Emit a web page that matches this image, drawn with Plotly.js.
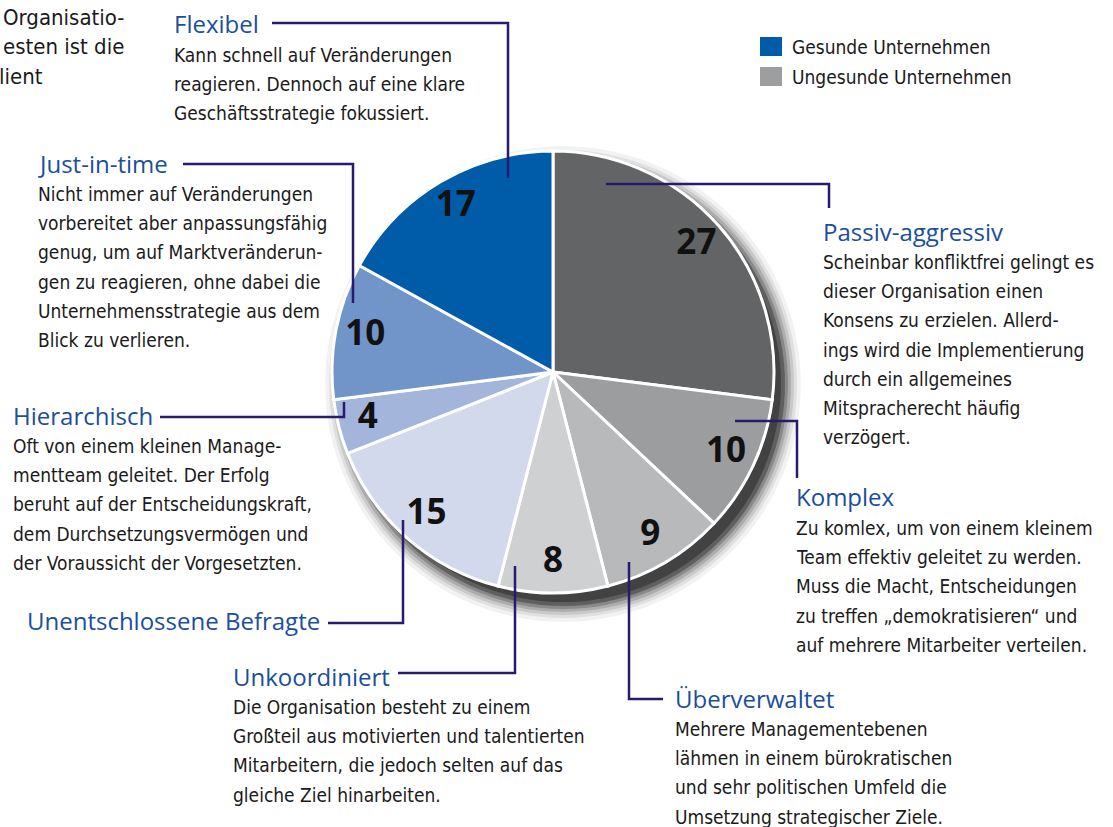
<!DOCTYPE html>
<html>
<head>
<meta charset="utf-8">
<script src="https://cdn.plot.ly/plotly-3.0.1.min.js"></script>
<style>html,body{margin:0;padding:0;background:#fff;}#chart{width:1113px;height:827px;}</style>
</head>
<body>
<div id="chart"></div>
<script>
// ---- data ----
const categories = ['Passiv-aggressiv','Komplex','Überverwaltet','Unkoordiniert','Unentschlossene Befragte','Hierarchisch','Just-in-time','Flexibel'];
const values = [27, 10, 9, 8, 15, 4, 10, 17];
const sliceColors = ['#636466','#9c9d9f','#b8b9bb','#cfd0d2','#d3d9ec','#a3b5db','#7194c9','#005ca8'];
const legendLabels = ['Gesunde Unternehmen','Ungesunde Unternehmen'];
const legendColors = ['#005ca8','#9d9ea0'];

const descPassiv = ['Scheinbar konfliktfrei gelingt es','dieser Organisation einen','Konsens zu erzielen. Allerd-','ings wird die Implementierung','durch ein allgemeines','Mitspracherecht häufig','verzögert.'];
const descKomplex = ['Zu komlex, um von einem kleinem','Team effektiv geleitet zu werden.','Muss die Macht, Entscheidungen','zu treffen „demokratisieren“ und','auf mehrere Mitarbeiter verteilen.'];
const descUeber = ['Mehrere Managementebenen','lähmen in einem bürokratischen','und sehr politischen Umfeld die','Umsetzung strategischer Ziele.'];
const descUnko = ['Die Organisation besteht zu einem','Großteil aus motivierten und talentierten','Mitarbeitern, die jedoch selten auf das','gleiche Ziel hinarbeiten.'];
const descUnent = [];
const descHier = ['Oft von einem kleinen Manage-','mentteam geleitet. Der Erfolg','beruht auf der Entscheidungskraft,','dem Durchsetzungsvermögen und','der Voraussicht der Vorgesetzten.'];
const descJIT = ['Nicht immer auf Veränderungen','vorbereitet aber anpassungsfähig','genug, um auf Marktveränderun-','gen zu reagieren, ohne dabei die','Unternehmensstrategie aus dem','Blick zu verlieren.'];
const descFlex = ['Kann schnell auf Veränderungen','reagieren. Dennoch auf eine klare','Geschäftsstrategie fokussiert.'];
const descriptions = [descPassiv, descKomplex, descUeber, descUnko, descUnent, descHier, descJIT, descFlex];
const cutText = ['Organisatio-','esten ist die','lient'];

// ---- layout helpers (pixel positions) ----
const W = 1113, H = 827;
const px = x => x / W;
const py = y => 1 - y / H;
const bodyFont = 'Liberation Sans Narrow, DejaVu Sans Condensed, Arial Narrow, sans-serif';
const titleFont = 'Open Sans, Liberation Sans, sans-serif';
const titleColor = '#1a4f9c';
const lineColor = '#2a1a6e';
const textColor = '#1a1a1a';

const blockPos = [[822,231],[795,497],[674,698],[232,676],[26,620],[12,415],[37,163],[173,24]];
const connectors = [
  [[606,184],[829,184],[829,208]],
  [[735,421],[797,421],[797,478]],
  [[629,562],[629,699],[663,699]],
  [[515,566],[515,673],[398,673]],
  [[403,520],[403,623],[328,623]],
  [[344,402],[344,417],[160,417]],
  [[353,303],[353,164],[183,164]],
  [[508,178],[508,23],[272,23]]
];
const cutRight = [126, 126, 45];

const cx = 553, cy = 372, R = 221;
const dom = (x, y, r) => ({x: [px(x - r), px(x + r)], y: [py(y + r), py(y - r)]});

// slice geometry from the data
const total = values.reduce((a, b) => a + b, 0);
const widths = values.map(v => v / total * 360);
const mids = [];
values.reduce((acc, v) => { mids.push((acc + v / 2) / total * 360); return acc + v; }, 0);

const traces = [];
// soft drop shadow (polar subplot underneath)
const shadowR = 238;
const shadowLayers = [[238,0.05],[234,0.07],[231,0.10],[228,0.14],[225,0.2],[222,0.3],[218,0.3]];
shadowLayers.forEach(([r, a]) => {
  traces.push({type:'barpolar', subplot:'polar', r:[r / shadowR], theta:[180], width:[360],
    marker:{color:'rgba(0,0,0,' + a + ')', line:{width:0}}, hoverinfo:'skip', showlegend:false});
});
// main pie as polar sectors
traces.push({type:'barpolar', subplot:'polar2', r: values.map(() => 1), theta: mids, width: widths,
  marker:{color: sliceColors, line:{color:'#ffffff', width:3}}, text: categories, hoverinfo:'text', showlegend:false});
// value labels
traces.push({type:'scatterpolar', subplot:'polar2', mode:'text', r: values.map(() => 0.865), theta: mids,
  text: values.map(String), textposition:'middle center', cliponaxis:false,
  textfont:{family:'Open Sans, Liberation Sans, sans-serif', size:35, color:'#111', weight:700},
  hoverinfo:'skip', showlegend:false});

const hiddenPolar = (domain, rmax) => ({
  domain: domain, bgcolor:'rgba(0,0,0,0)', barmode:'overlay',
  radialaxis:{visible:false, range:[0, rmax], showgrid:false, showline:false},
  angularaxis:{visible:false, direction:'clockwise', rotation:90, showgrid:false, showline:false, ticks:''}
});

const annotations = [];
const shapes = [];
categories.forEach((cat, i) => {
  const [x, y] = blockPos[i];
  annotations.push({xref:'paper', yref:'paper', x:px(x - 1), y:py(y), xanchor:'left', yanchor:'middle',
    text:cat, showarrow:false, font:{family:titleFont, size:24, color:titleColor, weight:400}});
  descriptions[i].forEach((ln, k) => {
    annotations.push({xref:'paper', yref:'paper', x:px(x - 1), y:py(y + 31 + k * 29.2), xanchor:'left', yanchor:'middle',
      text:ln, showarrow:false, font:{family:bodyFont, size:19, color:textColor}});
  });
  const pts = connectors[i];
  shapes.push({type:'path', xref:'paper', yref:'paper', layer:'above',
    path: pts.map((p, j) => (j ? 'L ' : 'M ') + px(p[0]) + ' ' + py(p[1])).join(' '),
    line:{color:lineColor, width:2.5}});
});
cutText.forEach((t, k) => {
  annotations.push({xref:'paper', yref:'paper', x:px(cutRight[k]), y:py(17 + k * 29.5), xanchor:'right', yanchor:'middle',
    text:t, showarrow:false, font:{family:bodyFont, size:22, color:textColor}});
});
legendLabels.forEach((lab, k) => {
  const y = 47 + k * 30;
  shapes.push({type:'rect', xref:'paper', yref:'paper', x0:px(760), x1:px(782), y0:py(y - 10), y1:py(y + 9),
    fillcolor:legendColors[k], line:{width:0}});
  annotations.push({xref:'paper', yref:'paper', x:px(790), y:py(y), xanchor:'left', yanchor:'middle',
    text:lab, showarrow:false, font:{family:bodyFont, size:19, color:textColor}});
});

const layout = {
  width: W, height: H, margin:{l:0, r:0, t:0, b:0},
  paper_bgcolor:'#ffffff', plot_bgcolor:'#ffffff', showlegend:false,
  polar: hiddenPolar(dom(cx + 10, cy + 12, shadowR), 1),
  polar2: hiddenPolar(dom(cx, cy, R * 1.01), 1.01),
  annotations: annotations, shapes: shapes
};
Plotly.newPlot('chart', traces, layout, {displayModeBar:false, staticPlot:true});
</script>
</body>
</html>
